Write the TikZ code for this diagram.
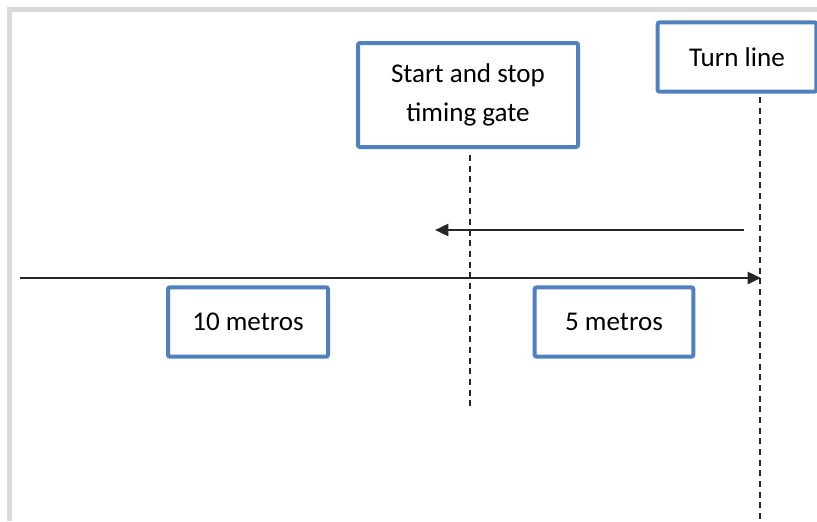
\documentclass[tikz,border=0pt]{standalone}
\usepackage{fontspec}
\setmainfont{Carlito}
\usetikzlibrary{arrows.meta}
\definecolor{boxblue}{HTML}{4F81BD}
\definecolor{framegrey}{HTML}{D9D9D9}
\tikzset{
  lbl/.style={draw=boxblue, line width=3pt, rounded corners=1.5pt, fill=white,
    align=center, font=\fontsize{20.3}{29}\selectfont, inner sep=0pt},
  guide/.style={draw=black!85, line width=1.2pt, dash pattern=on 4.5pt off 3.5pt},
  run/.style={draw=black!85, line width=1.9pt, -{Triangle[length=10pt,width=9pt]}},
}
\begin{document}
\begin{tikzpicture}[x=0.75pt,y=-0.75pt]
\useasboundingbox (0,0) rectangle (817,521);
% frame
\draw[framegrey, line width=3.75pt] (817,9.5) -- (9.5,9.5) -- (9.5,521);
% boxes
\node[lbl, minimum width=165pt, minimum height=78pt] (gate) at (468,95) {Start and stop\\timing gate};
\node[lbl, minimum width=119pt, minimum height=52pt] (turn) at (737,57) {Turn line};
\node[lbl, minimum width=120pt, minimum height=52pt] (ten) at (248,322) {10 metros};
\node[lbl, minimum width=119pt, minimum height=52pt] (five) at (614,322) {5 metros};
% guides
\coordinate (g1) at (470,155);
\coordinate (g2) at (470,407);
\coordinate (t1) at (760,97);
\coordinate (t2) at (760,521);
\draw[guide] (g1) -- (g2);
\draw[guide] (t1) -- (t2);
% runs
\coordinate (a1) at (20,278);
\coordinate (a2) at (761,278);
\coordinate (b1) at (744,230);
\coordinate (b2) at (435,230);
\draw[run] (a1) -- (a2);
\draw[run] (b1) -- (b2);
\end{tikzpicture}
\end{document}
